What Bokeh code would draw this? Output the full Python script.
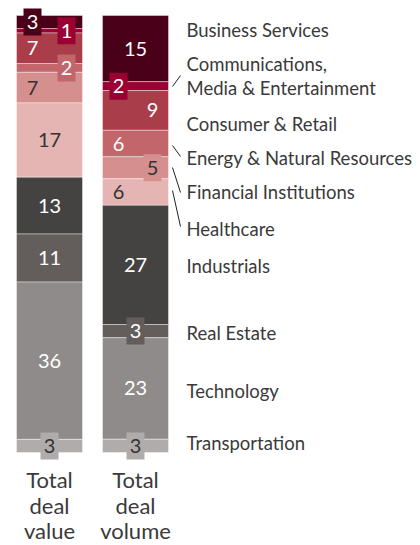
from bokeh.plotting import figure
from bokeh.models import Range1d, ColumnDataSource
from bokeh.embed import file_html
from bokeh.resources import INLINE
from bokeh.core.properties import value

# ---------------- data ----------------
sectors = ["Business Services", "Communications, Media & Entertainment",
           "Consumer & Retail", "Energy & Natural Resources",
           "Financial Institutions", "Healthcare", "Industrials",
           "Real Estate", "Technology", "Transportation"]
deal_value = [3, 1, 7, 2, 7, 17, 13, 11, 36, 3]
deal_volume = [15, 2, 9, 6, 5, 6, 27, 3, 23, 3]
bar_names = [["Total", "deal", "value"], ["Total", "deal", "volume"]]

# ---------------- style ----------------
colors = ["#4b0019", "#9b0033", "#a93d4a", "#c2666b", "#d48f8e",
          "#e5b5b3", "#454341", "#635e5c", "#8f8b8a", "#b0acab"]
label_colors = [["white", "white", "white", "white", "#333333", "#333333",
                 "white", "white", "white", "#333333"],
                ["white", "white", "white", "white", "#333333", "#333333",
                 "white", "white", "white", "#333333"]]
# label placement: L(eft), C(enter), R(ight); boxed = small value tag
label_pos = [["L", "R", "L", "R", "L", "C", "C", "C", "C", "C"],
             ["C", "L", "R", "L", "R", "L", "C", "C", "C", "C"]]
label_box = [[True, True, False, True, False, False, False, False, False, True],
             [False, True, False, False, True, False, False, True, False, True]]

FONT = "Lato"
W, H = 420, 545
# picture-pixel geometry
BAR_TOP, BAR_BOT = 15, 452
PXU = (BAR_BOT - BAR_TOP) / 100.0


def py(page_y):
    return (BAR_BOT - page_y) / PXU


bar_left = [16, 102]
bar_w = 66

p = figure(width=W, height=H, output_backend="svg", toolbar_location=None,
           x_range=Range1d(0, W), y_range=Range1d(py(H), py(0)),
           x_axis_location=None, y_axis_location=None, min_border=0,
           outline_line_color=None, background_fill_color="white",
           border_fill_color="white")
p.xgrid.visible = False
p.ygrid.visible = False

box_src = dict(x=[], y=[], c=[])
txt_src = dict(x=[], y=[], t=[], c=[])

for b, vals in enumerate([deal_value, deal_volume]):
    total = float(sum(vals))
    tops, bots = [], []
    acc = 0.0
    for v in vals:
        tops.append(100 - acc / total * 100)
        acc += v
        bots.append(100 - acc / total * 100)
    L = bar_left[b]
    R = L + bar_w
    p.quad(left=[L] * len(vals), right=[R] * len(vals), top=tops, bottom=bots,
           fill_color=colors, line_color="white", line_alpha=0.5, line_width=0.8)
    for j, v in enumerate(vals):
        pos = label_pos[b][j]
        x = L + 16 if pos == "L" else (R - 16 if pos == "R" else (L + R) / 2)
        y = (tops[j] + bots[j]) / 2
        if label_box[b][j]:
            box_src["x"].append(x)
            box_src["y"].append(y)
            box_src["c"].append(colors[j])
        txt_src["x"].append(x)
        txt_src["y"].append(y)
        txt_src["t"].append(str(v))
        txt_src["c"].append(label_colors[b][j])

p.rect(x="x", y="y", width=18, height=27, width_units="screen",
       height_units="screen", fill_color="c", line_color=None,
       source=ColumnDataSource(box_src))
p.text(x="x", y="y", text="t", text_color="c", text_font=value(FONT),
       text_font_size="20px", text_align="center", text_baseline="middle",
       source=ColumnDataSource(txt_src))

# bar names below the bars
names_x, names_y, names_t = [], [], []
for b, lines in enumerate(bar_names):
    for k, t in enumerate(lines):
        names_x.append(bar_left[b] + bar_w / 2)
        names_y.append(py([479, 505, 530][k]))
        names_t.append(t)
p.text(x=names_x, y=names_y, text=names_t, text_color="#3a3a3a",
       text_font=value(FONT), text_font_size="22px", text_align="center",
       text_baseline="alphabetic")

# sector labels at the right
cat_lines = ["Business Services", "Communications,", "Media & Entertainment",
             "Consumer & Retail", "Energy & Natural Resources",
             "Financial Institutions", "Healthcare", "Industrials",
             "Real Estate", "Technology", "Transportation"]
cat_y = [29, 63, 87, 123, 157, 191, 228, 265, 332, 390, 442]
p.text(x=[186] * len(cat_lines), y=[py(v) for v in cat_y], text=cat_lines,
       text_color="#3a3a3a", text_font=value(FONT), text_font_size="18.5px",
       text_align="left", text_baseline="middle")

# leader lines for thin segments
seg_x0 = [172, 172, 172, 172]
seg_y0 = [86, 145, 167, 190]
seg_x1 = [180, 180, 180, 180]
seg_y1 = [75, 156, 192, 226]
p.segment(x0=seg_x0, y0=[py(v) for v in seg_y0], x1=seg_x1,
          y1=[py(v) for v in seg_y1], line_color="#222222", line_width=1)

open("out.html", "w").write(file_html(p, INLINE))
